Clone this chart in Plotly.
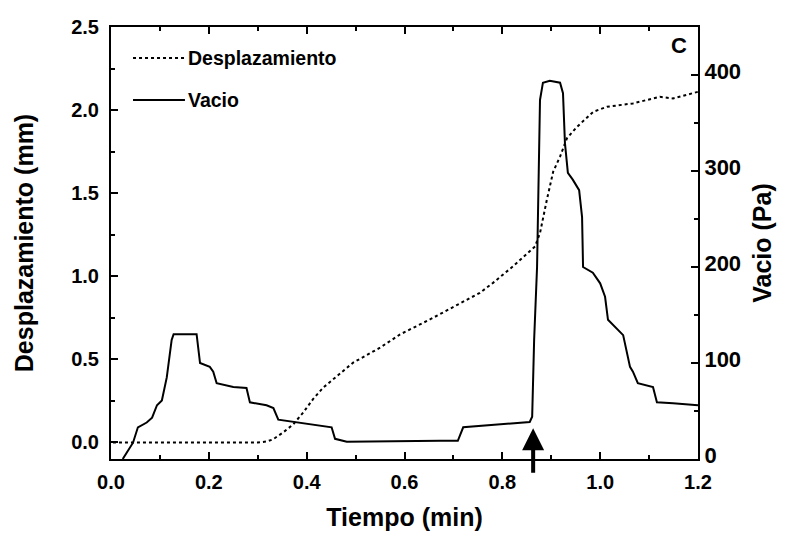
import plotly.graph_objects as go

# Vacio (Pa) - right axis
t_vacio = [0.024, 0.045, 0.055, 0.073, 0.084, 0.094, 0.104, 0.114, 0.124, 0.128, 0.175, 0.182,
           0.202, 0.209, 0.216, 0.25, 0.277, 0.284, 0.318, 0.332, 0.342, 0.386, 0.451, 0.458,
           0.482, 0.673, 0.709, 0.72, 0.856, 0.861, 0.863, 0.865, 0.871, 0.877, 0.883, 0.897,
           0.918, 0.924, 0.928, 0.934, 0.944, 0.957, 0.963, 0.965, 0.985, 1.0, 1.01, 1.016,
           1.047, 1.054, 1.061, 1.067, 1.077, 1.108, 1.116, 1.149, 1.2]
vacio = [0, 17, 33, 38, 43, 56, 61, 85, 124, 130, 130, 100,
         96, 91, 79, 75, 74, 59, 56, 53, 41, 37.5, 33, 21,
         18, 19, 19, 33, 38.5, 44, 103, 124, 200, 374, 392, 394,
         392, 381, 329, 298, 291, 280, 252, 200, 194, 183, 169, 145,
         129, 114, 96, 91, 79, 75, 59, 58, 56]

# Desplazamiento (mm) - left axis
t_desp = [0.004, 0.1, 0.2, 0.3, 0.318, 0.331, 0.352, 0.373, 0.393, 0.413, 0.434, 0.462, 0.495,
          0.55, 0.591, 0.652, 0.754, 0.781, 0.822, 0.867, 0.877, 0.891, 0.904, 0.918, 0.932,
          0.953, 0.986, 1.014, 1.067, 1.122, 1.149, 1.2]
desp = [0.0, 0.0, 0.0, 0.0, 0.005, 0.018, 0.06, 0.11, 0.18, 0.26, 0.33, 0.40, 0.48,
        0.57, 0.65, 0.74, 0.90, 0.96, 1.06, 1.18, 1.26, 1.46, 1.63, 1.72, 1.83,
        1.90, 1.99, 2.02, 2.04, 2.08, 2.07, 2.11]

arrow_x = 0.863
arrow_y = 32

FONT = "Arial"
DOT = "3px,3px"

fig = go.Figure()
fig.add_trace(go.Scatter(x=t_desp, y=desp, mode="lines", name="Desplazamiento",
                         line=dict(color="black", width=2, dash=DOT), showlegend=False))
fig.add_trace(go.Scatter(x=t_vacio, y=vacio, mode="lines", name="Vacio", yaxis="y2",
                         line=dict(color="black", width=2), showlegend=False))


def tf(size):
    return dict(family=FONT, size=size, color="black", weight="bold")


fig.update_layout(
    width=785, height=539,
    margin=dict(l=111, r=87, t=27, b=80),
    paper_bgcolor="white", plot_bgcolor="white",
    showlegend=False,
    xaxis=dict(range=[0, 1.2], tickvals=[0, 0.2, 0.4, 0.6, 0.8, 1.0, 1.2],
               ticktext=["0.0", "0.2", "0.4", "0.6", "0.8", "1.0", "1.2"],
               ticks="inside", ticklen=7, tickwidth=2, tickcolor="black",
               minor=dict(dtick=0.1, ticks="inside", ticklen=4, tickwidth=2, tickcolor="black"),
               showline=True, linecolor="black", linewidth=2, mirror="ticks",
               showgrid=False, zeroline=False, tickfont=tf(20), ticklabelstandoff=4,
               title=dict(text="Tiempo (min)", font=tf(25), standoff=16)),
    yaxis=dict(range=[-0.1, 2.5], tickvals=[0, 0.5, 1.0, 1.5, 2.0, 2.5],
               ticktext=["0.0", "0.5", "1.0", "1.5", "2.0", "2.5"],
               ticks="inside", ticklen=7, tickwidth=2, tickcolor="black",
               minor=dict(dtick=0.25, tick0=0, ticks="inside", ticklen=4, tickwidth=2, tickcolor="black"),
               showline=True, linecolor="black", linewidth=2,
               showgrid=False, zeroline=False, tickfont=tf(20), ticklabelstandoff=6,
               title=dict(text="Desplazamiento (mm)", font=tf(25), standoff=30)),
    yaxis2=dict(range=[0, 450], overlaying="y", side="right",
                tickvals=[0, 100, 200, 300, 400],
                ticks="inside", ticklen=7, tickwidth=2, tickcolor="black",
                minor=dict(dtick=50, ticks="inside", ticklen=4, tickwidth=2, tickcolor="black"),
                showline=True, linecolor="black", linewidth=2,
                showgrid=False, zeroline=False, tickfont=tf(22), ticklabelshift=-4,
                title=dict(text="Vacio (Pa)", font=tf(25), standoff=13)),
)

# Legend drawn inside plot (top-left)
legend_items = [("Desplazamiento", DOT, 0.928), ("Vacio", "solid", 0.831)]
for label, dash, ypos in legend_items:
    fig.add_shape(type="line", xref="paper", yref="paper", x0=0.0375, x1=0.126,
                  y0=ypos, y1=ypos, line=dict(color="black", width=2, dash=dash))
    fig.add_annotation(x=0.128, y=ypos, xref="paper", yref="paper", xanchor="left",
                       yanchor="middle", showarrow=False, text=label, font=tf(19.5))

fig.add_annotation(x=arrow_x, y=arrow_y, xref="x", yref="y2", ax=0, ay=46,
                   showarrow=True, arrowhead=2, arrowsize=1.1, arrowwidth=4,
                   arrowcolor="black", text="")
fig.add_annotation(x=0.985, y=0.99, xref="paper", yref="paper", xanchor="right",
                   yanchor="top", showarrow=False, text="C", font=tf(22))

fig.write_html("out.html")
